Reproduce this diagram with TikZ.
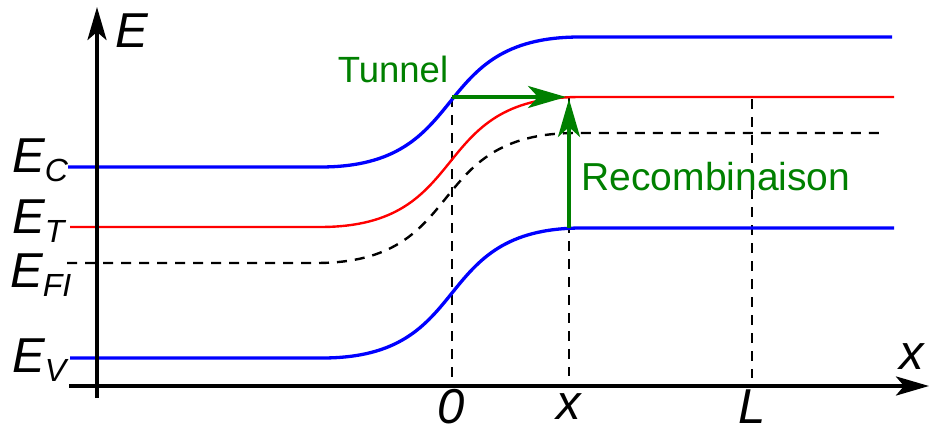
\documentclass[tikz,border=0pt]{standalone}
\usepackage{fontspec}
\setmainfont{Liberation Sans}
\usetikzlibrary{arrows.meta}
\definecolor{band}{RGB}{0,0,255}
\definecolor{trap}{RGB}{255,0,0}
\definecolor{dgreen}{RGB}{0,128,0}
\tikzset{
  axis/.style={line width=4pt, -{Stealth[length=33pt, width=19pt, inset=8pt]}},
  bandline/.style={line width=3.3pt, band},
  trapline/.style={line width=2.4pt, trap},
  fermi/.style={line width=2.4pt, black, dash pattern=on 10pt off 8pt},
  guide/.style={line width=2.4pt, black, dash pattern=on 10pt off 8pt},
  garrow/.style={line width=4pt, dgreen, -{Stealth[length=38pt, width=22pt, inset=10pt]}},
  lab/.style={font=\fontsize{49}{55}\selectfont\itshape, inner sep=0pt},
  gtext/.style={text=dgreen, inner sep=0pt}
}
\newcommand{\lsub}[1]{\raisebox{-9pt}{\fontsize{32}{36}\selectfont #1}}
\begin{document}
\begin{tikzpicture}[x=1pt, y=-1pt]
\useasboundingbox (0,0) rectangle (934,429);
% coordinates
\coordinate (ybot) at (97,398);
\coordinate (ytop) at (97,7);
\coordinate (xl) at (69,386);
\coordinate (xr) at (929,386);
\coordinate (t0) at (452,97);
\coordinate (t1) at (566,97);
\coordinate (r0) at (569,228);
\coordinate (r1) at (569,99);
% vertical guides
\draw[guide] (452,97) -- (452,386);
\draw[guide] (569,97) -- (569,376);
\draw[guide] (752,99) -- (752,378);
% bands
\draw[bandline] (68,167) -- (320,167) .. controls (475,167) and (425,37) .. (580,37) -- (892,37);
\draw[trapline] (70,227) -- (320,227) .. controls (475,227) and (425,97) .. (580,97) -- (894,97);
\draw[fermi] (67,263) -- (316,263) .. controls (471,263) and (421,133) .. (576,133) -- (884,133);
\draw[bandline] (70,358) -- (322,358) .. controls (477,358) and (427,228) .. (582,228) -- (894,228);
% axes
\draw[axis] (ybot) -- (ytop);
\draw[axis] (xl) -- (xr);
% green arrows
\draw[garrow] (t0) -- (t1);
\draw[garrow] (r0) -- (r1);
% labels
\node[lab, anchor=base] (lE) at (132,47) {E};
\node[lab, anchor=base west] (lEC) at (12,172) {E\lsub{C}};
\node[lab, anchor=base west] (lET) at (12,233) {E\lsub{T}};
\node[lab, anchor=base west] (lEF) at (10,287) {E\lsub{FI}};
\node[lab, anchor=base west] (lEV) at (12,372) {E\lsub{V}};
\node[lab, text depth=0pt, anchor=base] (l0) at (451,423) {0};
\node[lab, text depth=0pt, anchor=base] (lx) at (569,419) {x};
\node[lab, text depth=0pt, anchor=base] (lL) at (752,423) {L};
\node[lab, anchor=base] (lxa) at (912,369) {x};
\node[gtext, font=\fontsize{36.5}{42}\selectfont, anchor=base] (tun) at (393,82) {Tunnel};
\node[gtext, font=\fontsize{39}{44}\selectfont, anchor=base] (rec) at (716,190) {Recombinaison};
\end{tikzpicture}
\end{document}
